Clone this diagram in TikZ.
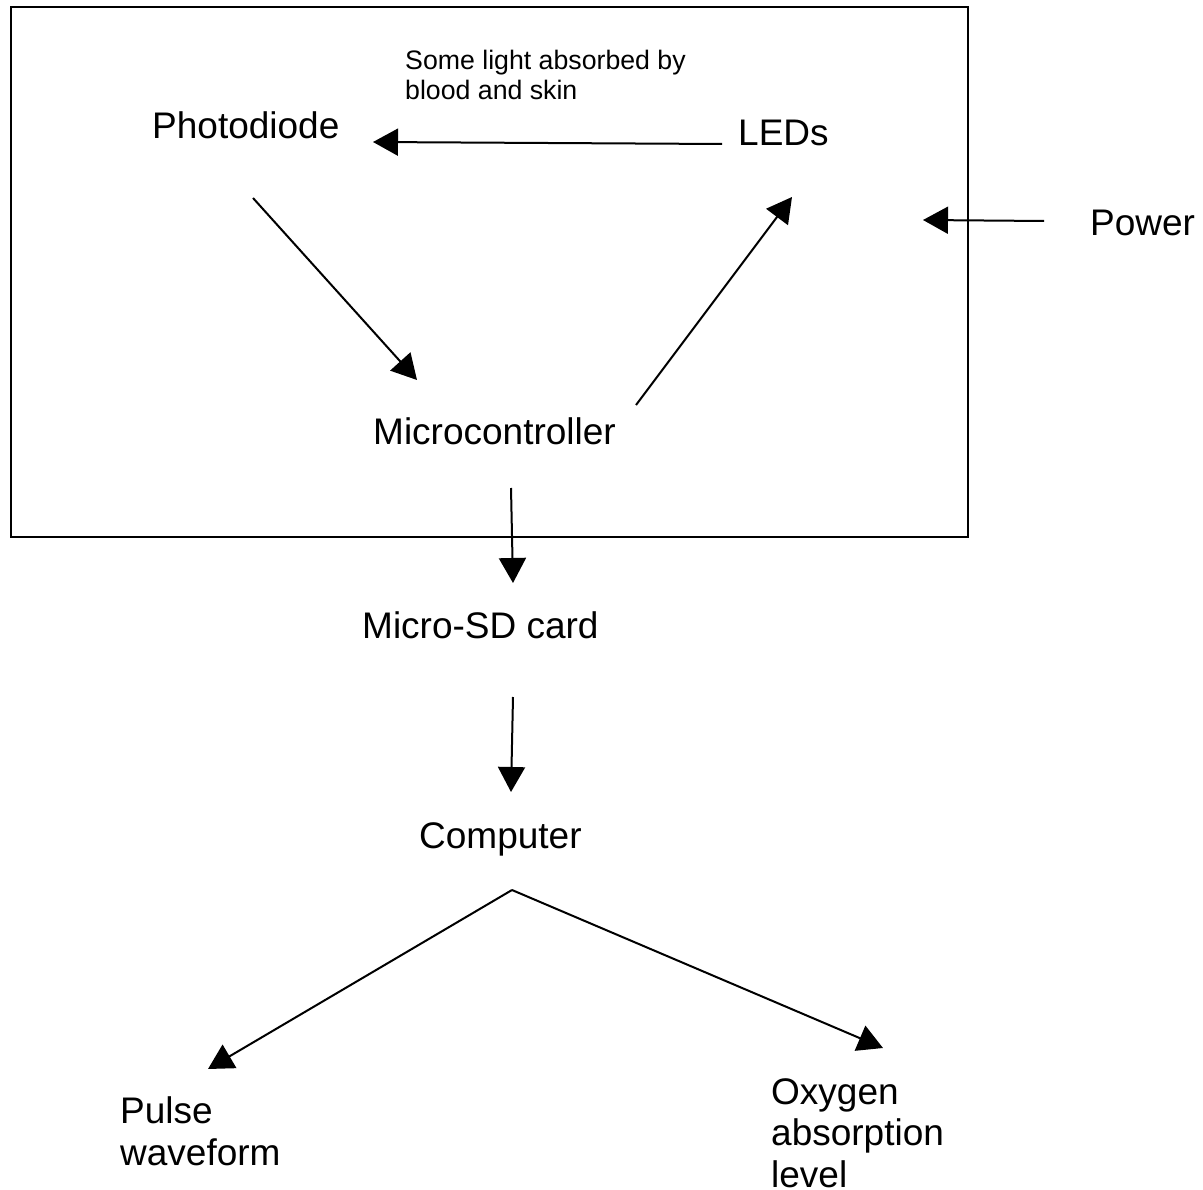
\documentclass[tikz,border=0pt]{standalone}
\usepackage{fontspec}
\setmainfont{Liberation Sans}
\usetikzlibrary{calc, positioning, arrows.meta}
\newcommand\bigtxt{\fontsize{37pt}{41.5pt}\selectfont}   % block names
\newcommand\smalltxt{\fontsize{26.7pt}{30.5pt}\selectfont} % side note
\tikzset{
  blk/.style={inner sep=0pt, anchor=base west, align=left, font=\bigtxt},
  note/.style={inner sep=0pt, anchor=base west, align=left, font=\smalltxt},
  flow/.style={line width=2pt, -{Triangle[length=25pt,width=27pt]}}
}

\begin{document}
\begin{tikzpicture}[x=1pt,y=-1pt]
            \useasboundingbox (0,0) rectangle (1203,1190);
            \draw[line width=2pt] (11,7) rectangle (968,537);
            % multi-line nodes sit on their last line
            \node[note] (absorb) at (405,100) {Some light absorbed by\\blood and skin};
            \node[blk] (photo) at (152,139) {Photodiode};
            \node[blk] (leds) at (738,146) {LEDs};
            \node[blk] (power) at (1090,236) {Power};
            \node[blk] (micro) at (373,445) {Microcontroller};
            \node[blk] (sdcard) at (362,638) {Micro-SD card};
            \node[blk] (comp) at (419,848) {Computer};
            \node[blk] (pulse) at (120,1165) {Pulse\\waveform};
            \node[blk] (oxy) at (771,1187) {Oxygen\\absorption\\level};
            % ends of the arrows
            \coordinate (L1) at (722,144);  \coordinate (P1) at (373,142);
            \coordinate (P2) at (253,198);  \coordinate (M1) at (417,380);
            \coordinate (M2) at (636,405);  \coordinate (L2) at (792,197);
            \coordinate (W1) at (1044,221); \coordinate (B1) at (923,220);
            \coordinate (M3) at (511,488);  \coordinate (S1) at (513,583);
            \coordinate (S2) at (513,697);  \coordinate (C1) at (511,792);
            \coordinate (C2) at (512,890);
            \coordinate (Q1) at (208,1069); \coordinate (O1) at (883,1048);
            \draw[flow] (L1) -- (P1);
            \draw[flow] (P2) -- (M1);
            \draw[flow] (M2) -- (L2);
            \draw[flow] (W1) -- (B1);
            \draw[flow] (M3) -- (S1);
            \draw[flow] (S2) -- (C1);
            \draw[flow] (C2) -- (Q1);
            \draw[flow] (C2) -- (O1);
          \end{tikzpicture}
\end{document}
